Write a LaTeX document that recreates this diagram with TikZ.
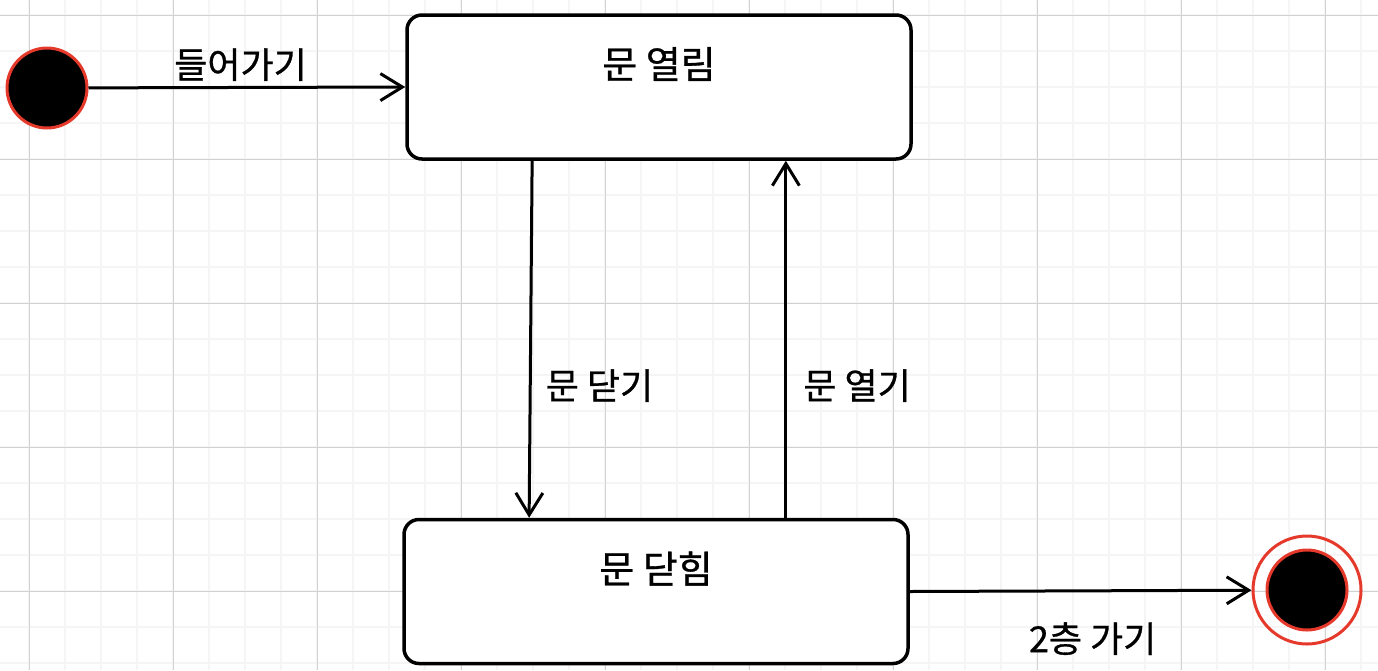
\documentclass[tikz,border=0pt]{standalone}
\usepackage{fontspec}
\setmainfont{Noto Sans CJK KR}[FakeBold=0.8]
\usetikzlibrary{arrows.meta,calc,positioning}
\definecolor{ringred}{HTML}{E5392B}
\definecolor{gridmajor}{HTML}{D2D2D2}
\definecolor{gridminor}{HTML}{F5F5F5}
\tikzset{
  zustand/.style={draw, line width=3.5pt, rounded corners=15pt, minimum width=504pt, minimum height=144pt},
  zustandtext/.style={font=\fontsize{38}{44}\selectfont, yshift=23pt},
  start/.style={circle, fill=black, draw=ringred, line width=3pt, minimum size=80pt, inner sep=0pt},
  ende/.style={circle, draw=ringred, line width=3pt, minimum size=108pt, inner sep=0pt},
  pfeil/.style={line width=3pt, -{Straight Barb[length=22pt,width=27pt,line width=3pt]}},
  beschriftung/.style={font=\fontsize{36}{42}\selectfont, inner sep=2pt}
}
\begin{document}
\begin{tikzpicture}[x=1pt,y=-1pt]
\useasboundingbox (0,0) rectangle (1378,670);
% Raster
\foreach \x in {-7,29,...,1378} \draw[gridminor, line width=1.5pt] (\x,0) -- (\x,670);
\foreach \y in {15,51,...,670} \draw[gridminor, line width=1.5pt] (0,\y) -- (1378,\y);
\foreach \x in {29,173,...,1378} \draw[gridmajor, line width=1pt] (\x,0) -- (\x,670);
\foreach \y in {15,159,...,670} \draw[gridmajor, line width=1pt] (0,\y) -- (1378,\y);

\node[start] (anfang) at (47,88) {};
\node[zustand, fill=white, label={[zustandtext]center:문 열림}] (offen) at (659,87) {};
\node[zustand, fill=white, label={[zustandtext]center:문 닫힘}] (zu) at (656,591.5) {};
\node[ende] (ende) at (1307,590) {};
\node[start] (endpunkt) at (ende.center) {};

\coordinate (offen1) at ($(offen.south west)!0.25!(offen.south east)$);
\coordinate (zu1) at ($(zu.north west)!0.25!(zu.north east)$);
\coordinate (offen2) at ($(offen.south west)!0.75!(offen.south east)$);

\draw[pfeil] (anfang) -- (offen.west)
  node[beschriftung, pos=0.48, above=3pt] {들어가기};
\draw[pfeil] (offen1) -- (zu1)
  node[beschriftung, pos=0.63, right=12pt] {문 닫기};
\draw[pfeil] (zu.north -| offen2) -- (offen2)
  node[beschriftung, pos=0.37, right=14pt] {문 열기};
\draw[pfeil] (zu.east) -- (ende)
  node[beschriftung, midway, below=28pt, xshift=12pt] {2층 가기};
\end{tikzpicture}
\end{document}
